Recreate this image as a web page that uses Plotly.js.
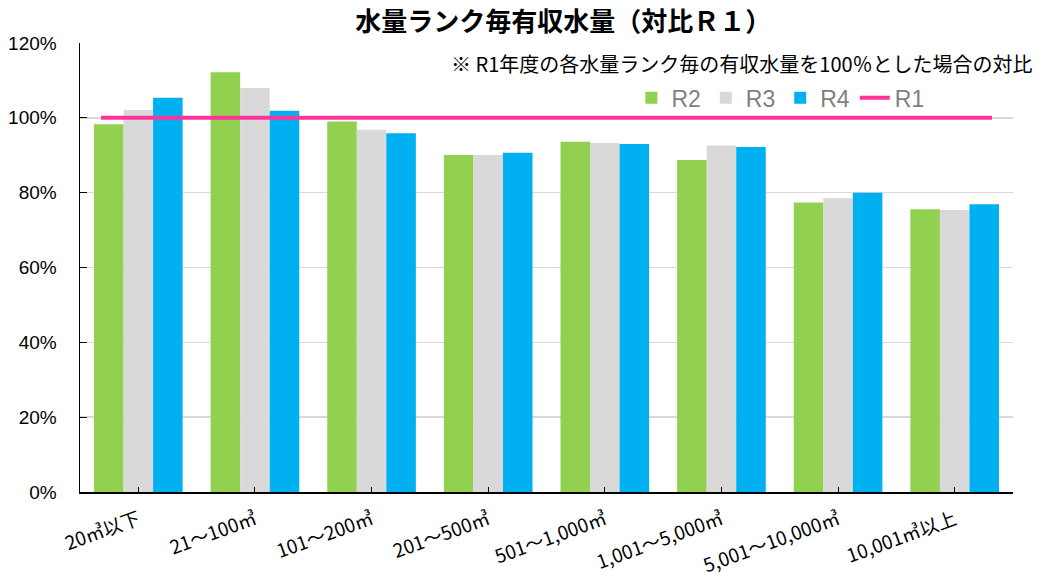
<!DOCTYPE html>
<html>
<head>
<meta charset="utf-8">
<script src="https://cdn.plot.ly/plotly-3.0.1.min.js"></script>
<style>html,body{margin:0;padding:0;background:#fff;}#chart{width:1041px;height:581px;}</style>
</head>
<body>
<div id="chart"></div>
<script>
const categories = ["20㎥以下","21～100㎥","101～200㎥","201～500㎥","501～1,000㎥","1,001～5,000㎥","5,001～10,000㎥","10,001㎥以上"];
const r2 = [98.3, 112.2, 99.0, 90.1, 93.6, 88.7, 77.4, 75.6];
const r3 = [102.1, 108.0, 96.8, 90.1, 93.3, 92.6, 78.5, 75.4];
const r4 = [105.4, 101.9, 95.9, 90.7, 93.0, 92.2, 80.0, 76.9];
const r1 = [100, 100, 100, 100, 100, 100, 100, 100];
const lineIndex = [0, 1, 2, 3, 4, 5, 6, 7];
const yTicks = [0, 20, 40, 60, 80, 100, 120];

const jp = '"Noto Sans CJK JP", "Liberation Sans", sans-serif';
const num = '"Liberation Sans", "Noto Sans CJK JP", sans-serif';

const traces = [
  {type:'bar', name:'R2', x:categories, y:r2, marker:{color:'#92D050'}},
  {type:'bar', name:'R3', x:categories, y:r3, marker:{color:'#D9D9D9'}},
  {type:'bar', name:'R4', x:categories, y:r4, marker:{color:'#00B0F0'}},
  {type:'scatter', mode:'lines', name:'R1', x:lineIndex, y:r1, xaxis:'x2',
   line:{color:'#FF3399', width:4}}
];

const layout = {
  width:1041, height:581,
  margin:{l:80, r:28, t:43, b:89},
  paper_bgcolor:'#ffffff', plot_bgcolor:'#ffffff',
  barmode:'group', bargap:0.24, bargroupgap:0,
  showlegend:true,
  title:{text:'<b>水量ランク毎有収水量（対比Ｒ１）</b>', font:{family:jp, size:26, color:'#000'},
         x:0.518, xref:'paper', xanchor:'center', y:0.962, yref:'container', yanchor:'middle'},
  xaxis:{type:'category', tickangle:-20, tickfont:{family:jp, size:19, color:'#000'},
         showline:true, linecolor:'#000', linewidth:1.5, ticks:'inside', ticklen:5, tickcolor:'#000',
         showgrid:false, ticklabelstandoff:8, range:[-0.5, 7.5]},
  xaxis2:{overlaying:'x', range:[-0.165, 7.165], visible:false, showgrid:false, zeroline:false},
  yaxis:{range:[0,120], tickvals:yTicks, ticktext:yTicks.map(v=>v+'%'),
         tickfont:{family:num, size:19, color:'#000'}, showline:true, linecolor:'#000', linewidth:1.5,
         ticks:'inside', ticklen:7, tickcolor:'#000', gridcolor:'#D9D9D9', gridwidth:1.5, zeroline:false,
         ticklabelstandoff:18},
  legend:{orientation:'h', x:0.591, xref:'paper', xanchor:'left', y:0.878, yref:'paper', yanchor:'middle',
          font:{family:num, size:23, color:'#7F7F7F'}, bgcolor:'rgba(0,0,0,0)', traceorder:'normal',
          itemwidth:30, tracegroupgap:0},
  annotations:[{text:'※ R1年度の各水量ランク毎の有収水量を100％とした場合の対比', xref:'paper', yref:'paper',
                x:1.024, xanchor:'right', y:(492-64)/449, yanchor:'middle', showarrow:false,
                font:{family:jp, size:20, color:'#000'}}]
};

Plotly.newPlot('chart', traces, layout, {displayModeBar:false, staticPlot:true});
</script>
</body>
</html>
